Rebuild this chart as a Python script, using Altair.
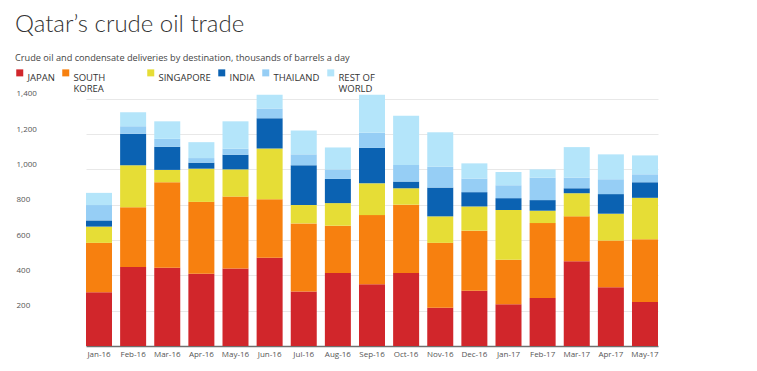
import altair as alt
import pandas as pd

months = ["Jan-16", "Feb-16", "Mar-16", "Apr-16", "May-16", "Jun-16", "Jul-16", "Aug-16",
          "Sep-16", "Oct-16", "Nov-16", "Dec-16", "Jan-17", "Feb-17", "Mar-17", "Apr-17", "May-17"]

destinations = ["JAPAN", "SOUTH KOREA", "SINGAPORE", "INDIA", "THAILAND", "REST OF WORLD"]
colors = ["#d1262b", "#f7800f", "#e6dd36", "#0b62b2", "#96cef5", "#b4e5fa"]

japan =       [304, 447, 443, 409, 439, 499, 308, 413, 349, 413, 216, 313, 236, 272, 480, 332, 249]
south_korea = [280, 339, 484, 407, 407, 332, 386, 268, 392, 387, 368, 340, 252, 424, 254, 265, 355]
singapore =   [92, 237, 70, 188, 154, 287, 104, 128, 180, 93, 150, 137, 282, 70, 131, 152, 235]
india =       [35, 178, 131, 34, 83, 171, 225, 137, 201, 38, 163, 81, 67, 60, 28, 111, 88]
thailand =    [87, 43, 45, 26, 34, 55, 62, 54, 85, 94, 118, 77, 73, 127, 60, 84, 45]
rest_world =  [69, 79, 99, 90, 155, 79, 135, 124, 216, 279, 195, 86, 75, 47, 173, 141, 107]

y_ticks = [200, 400, 600, 800, 1000, 1200, 1400]

series = [japan, south_korea, singapore, india, thailand, rest_world]
rows = []
for i, (dest, vals) in enumerate(zip(destinations, series)):
    for m, v in zip(months, vals):
        rows.append({"month": m, "destination": dest, "order": i, "value": v})
df = pd.DataFrame(rows)

FONT = "Open Sans"

pad = "\u00a0" * 14 + "\u200b"
label_expr = (f"datum.label == 'SOUTH KOREA' ? ['SOUTH{pad}', 'KOREA'] : "
              "datum.label == 'REST OF WORLD' ? ['REST OF', 'WORLD'] : [datum.label, ' ']")

chart = alt.Chart(df).mark_bar().encode(
    x=alt.X("month:N", sort=months,
            scale=alt.Scale(domain=months, paddingInner=0.238, paddingOuter=0, range=[71, 643]),
            axis=alt.Axis(title=None, labelAngle=0, ticks=False, domainColor="#6f6f6f",
                          domainWidth=1.5, labelFontSize=8, labelColor="#555555",
                          labelPadding=4, grid=False, labelFont=FONT)),
    y=alt.Y("value:Q", stack="zero",
            scale=alt.Scale(domain=[0, 1455], nice=False),
            axis=alt.Axis(title=None, values=y_ticks, format=",.0f", domain=False, ticks=False,
                          labelAlign="left", labelBaseline="alphabetic", labelPadding=-1,
                          labelOffset=-3, gridColor="#e8e8e8", gridWidth=1,
                          labelFontSize=8, labelColor="#555555", labelFont=FONT)),
    color=alt.Color("destination:N", sort=destinations,
                    scale=alt.Scale(domain=destinations, range=colors),
                    legend=alt.Legend(title=None, orient="none", legendX=0, legendY=-21,
                                      direction="horizontal", symbolType="square",
                                      symbolSize=49, symbolStrokeWidth=0, labelOffset=3,
                                      columnPadding=6, labelFontSize=9.5, labelColor="#333333",
                                      labelFont=FONT, labelExpr=label_expr,
                                      labelBaseline="top", labelLimit=250)),
    order=alt.Order("order:Q", sort="ascending"),
).properties(
    width=730,
    height=257,
    title=alt.TitleParams(
        text="Qatar’s crude oil trade",
        subtitle="Crude oil and condensate deliveries by destination, thousands of barrels a day",
        anchor="start", frame="group", font="Lato", fontSize=24, fontWeight=300,
        color="#333333", subtitleFont=FONT, subtitleFontSize=9.2, subtitleColor="#444444",
        subtitlePadding=17, offset=5,
    ),
    autosize=alt.AutoSizeParams(type="none"),
    padding={"left": 7, "top": 81, "right": 4, "bottom": 15},
).configure_view(stroke=None)

chart.save("out.html", embed_options={"renderer": "svg", "actions": False})
